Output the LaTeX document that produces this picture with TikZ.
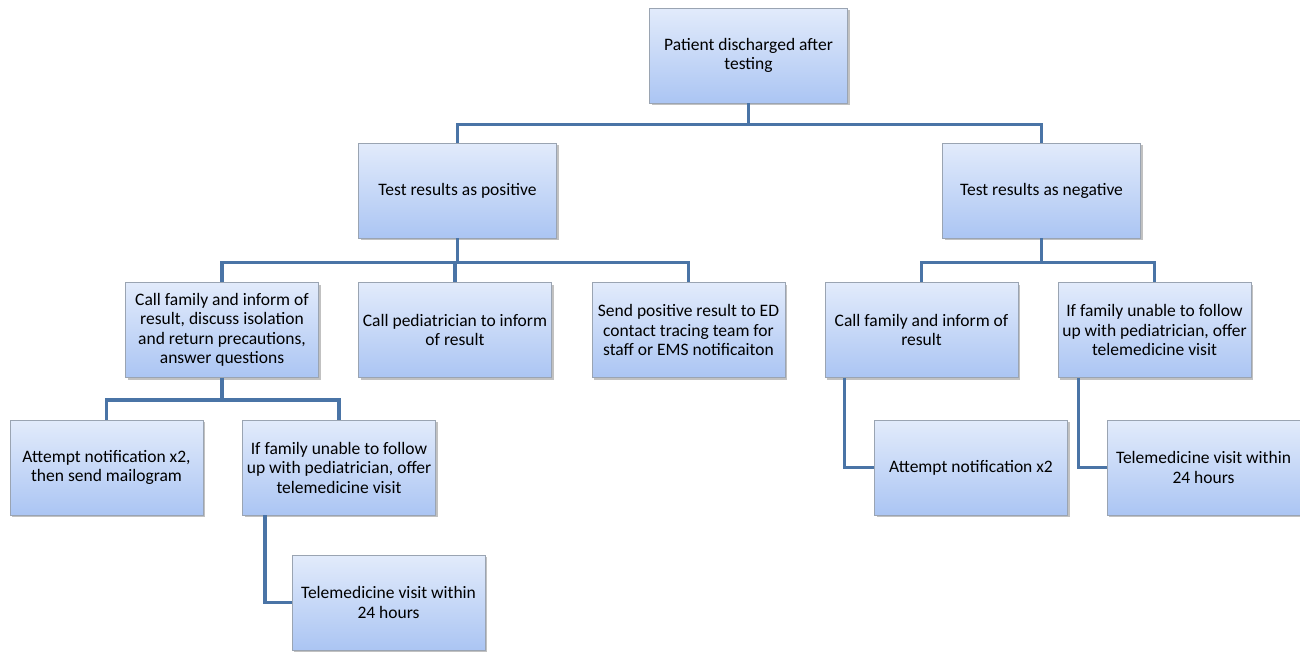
\documentclass[tikz,border=0pt]{standalone}
\usepackage{fontspec}
\setmainfont{Carlito}
\usetikzlibrary{shadows}
\definecolor{linec}{HTML}{4A74A6}
\definecolor{boxtop}{HTML}{E2EBFB}
\definecolor{boxbot}{HTML}{ABC5F3}
\definecolor{boxdraw}{HTML}{9AA4B2}
\tikzset{
  box/.style={draw=boxdraw, line width=0.8pt, top color=boxtop, bottom color=boxbot,
    minimum width=193pt, minimum height=95pt, align=center,
    inner sep=1pt, font=\fontsize{17.5}{19.5}\selectfont,
    drop shadow={shadow xshift=2pt, shadow yshift=-2pt, opacity=0.35, fill=black!70}},
  wide/.style={minimum width=198pt},
  conn/.style={draw=linec, line width=3.6pt}
}
\begin{document}
\begin{tikzpicture}[x=1pt,y=-1pt]
\useasboundingbox (0,0) rectangle (1300,654);
\node[box,wide] (top) at (748.5,55.5) {Patient discharged after\\testing};
\node[box,wide] (pos) at (457.5,190.5) {Test results as positive};
\node[box,wide] (neg) at (1041.5,190.5) {Test results as negative};
\node[box] (A) at (222,330) {Call family and inform of\\result, discuss isolation\\and return precautions,\\answer questions};
\node[box] (B) at (455,330) {Call pediatrician to inform\\of result};
\node[box] (C) at (688.5,330) {Send positive result to ED\\contact tracing team for\\staff or EMS notificaiton};
\node[box] (D) at (921.5,330) {Call family and inform of\\result};
\node[box] (E) at (1154.5,330) {If family unable to follow\\up with pediatrician, offer\\telemedicine visit};
\node[box] (F) at (106.5,467.5) {Attempt notification x2,\\then send mailogram};
\node[box] (G) at (339,467.5) {If family unable to follow\\up with pediatrician, offer\\telemedicine visit};
\node[box] (H) at (388.5,602.5) {Telemedicine visit within\\24 hours};
\node[box] (I) at (971,467.5) {Attempt notification x2};
\node[box] (J) at (1203.5,467.5) {Telemedicine visit within\\24 hours};
% connectors
\draw[conn] (top.south) -- ++(0,21) -| (pos.north);
\draw[conn] (top.south) -- ++(0,21) -| (neg.north);
\draw[conn] (pos.south) -- ++(0,24) -| (A.north);
\draw[conn] (pos.south) -- ++(0,24) -| (B.north);
\draw[conn] (pos.south) -- ++(0,24) -| (C.north);
\draw[conn] (neg.south) -- ++(0,24) -| (D.north);
\draw[conn] (neg.south) -- ++(0,24) -| (E.north);
\draw[conn] (A.south) -- ++(0,22) -| (F.north);
\draw[conn] (A.south) -- ++(0,22) -| (G.north);
\draw[conn] ([xshift=23pt]G.south west) |- (H.west);
\draw[conn] ([xshift=20pt]D.south west) |- (I.west);
\draw[conn] ([xshift=21pt]E.south west) |- (J.west);
\end{tikzpicture}
\end{document}
